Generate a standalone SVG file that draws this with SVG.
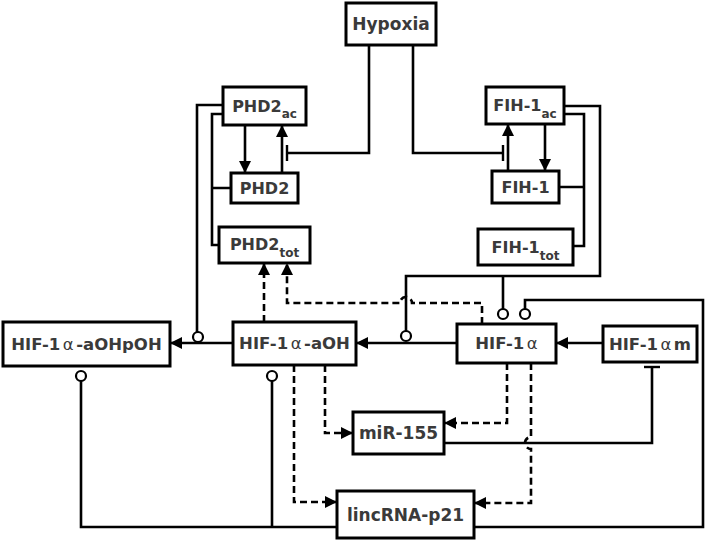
<svg xmlns="http://www.w3.org/2000/svg" width="708" height="543" viewBox="0 0 708 543">
<defs>
<style>
.box{fill:#fff;stroke:#000;stroke-width:3}
.t{font-family:"DejaVu Sans","Verdana",sans-serif;font-weight:bold;font-size:16px;fill:#3a3a3a;text-anchor:middle}
.h{font-size:16.5px}
.sub{font-size:12px}
.al{font-weight:normal}
.c{fill:none;stroke:#000;stroke-width:2.6}
.d{fill:none;stroke:#000;stroke-width:2.6;stroke-dasharray:7,4}
.o{fill:#fff;stroke:#000;stroke-width:2.2}
</style>
<marker id="ar" viewBox="0 0 12 12" refX="12" refY="6" markerWidth="12" markerHeight="12" markerUnits="userSpaceOnUse" orient="auto">
<path d="M0,0 L12,6 L0,12 z" fill="#000"/>
</marker>
<marker id="tb" viewBox="0 0 4 16" refX="2" refY="8" markerWidth="4" markerHeight="16" markerUnits="userSpaceOnUse" orient="auto">
<rect x="0.8" y="0" width="2.4" height="16" fill="#000"/>
</marker>
</defs>

<g id="connectors">
<path class="c" d="M369,45 V153 H287" marker-end="url(#tb)"/>
<path class="c" d="M413,45 V153 H503" marker-end="url(#tb)"/>
<path class="c" d="M245,125 V173" marker-end="url(#ar)"/>
<path class="c" d="M282,173 V125" marker-end="url(#ar)"/>
<path class="c" d="M508,171 V124" marker-end="url(#ar)"/>
<path class="c" d="M545,124 V171" marker-end="url(#ar)"/>
<path class="c" d="M223,114 H212 V245 H219 M231,188 H212"/>
<path class="c" d="M564,114 H584 V246 H573 M559,187 H584"/>
<path class="c" d="M223,105 H197 V332"/>
<path class="c" d="M564,106 H600 V276 H406 V331 M503,276 V309"/>
<path class="c" d="M474,527 H703 V300 H525 V309"/>
<path class="c" d="M337,527 H81 V381 M272,527 V381"/>
<path class="c" d="M603,343 H556" marker-end="url(#ar)"/>
<path class="c" d="M457,343 H356" marker-end="url(#ar)"/>
<path class="c" d="M233,343 H170" marker-end="url(#ar)"/>
<path class="c" d="M444,443 H652 V367" marker-end="url(#tb)"/>
<path class="d" d="M507,363 V423 H444" marker-end="url(#ar)"/>
<path class="d" d="M531,363 V437 A6,6 0 0 0 531,449 V503 H474" marker-end="url(#ar)"/>
<path class="d" d="M325,365 V433 H353" marker-end="url(#ar)"/>
<path class="d" d="M294,365 V502 H337" marker-end="url(#ar)"/>
<path class="d" d="M264,322 V263" marker-end="url(#ar)"/>
<path class="d" d="M482,324 V303 H412 A6,6 0 0 0 400,303 H287 V263" marker-end="url(#ar)"/>
<circle class="o" cx="198" cy="337" r="5"/>
<circle class="o" cx="406" cy="336" r="5"/>
<circle class="o" cx="503" cy="314" r="5"/>
<circle class="o" cx="525" cy="314" r="5"/>
<circle class="o" cx="81" cy="376" r="5"/>
<circle class="o" cx="272" cy="376" r="5"/>
</g>

<g id="hypoxia"><rect class="box" x="346" y="3" width="90" height="42"/><text class="t" x="391" y="30" style="font-size:17px">Hypoxia</text></g>
<g id="phd2ac"><rect class="box" x="223" y="87" width="83" height="38"/><text class="t" x="264.5" y="112">PHD2<tspan class="sub" dy="6">ac</tspan></text></g>
<g id="fih1ac"><rect class="box" x="486" y="87" width="78" height="37"/><text class="t" x="525" y="111">FIH-1<tspan class="sub" dy="7">ac</tspan></text></g>
<g id="phd2"><rect class="box" x="231" y="173" width="67" height="30"/><text class="t" x="264.5" y="194">PHD2</text></g>
<g id="fih1"><rect class="box" x="492" y="171" width="67" height="32"/><text class="t" x="525.5" y="193">FIH-1</text></g>
<g id="phd2tot"><rect class="box" x="219" y="227" width="91" height="36"/><text class="t" x="264.5" y="250">PHD2<tspan class="sub" dy="7">tot</tspan></text></g>
<g id="fih1tot"><rect class="box" x="478" y="229" width="95" height="36"/><text class="t" x="525.5" y="253">FIH-1<tspan class="sub" dy="7">tot</tspan></text></g>
<g id="hif1a-aohpoh"><rect class="box" x="3" y="322" width="167" height="44"/><text class="t h" x="86.5" y="350">HIF-1<tspan class="al" dx="2.5">α</tspan><tspan dx="2.5">-aOHpOH</tspan></text></g>
<g id="hif1a-aoh"><rect class="box" x="233" y="322" width="123" height="43"/><text class="t h" x="294.5" y="349">HIF-1<tspan class="al" dx="2.5">α</tspan><tspan dx="2.5">-aOH</tspan></text></g>
<g id="hif1a"><rect class="box" x="457" y="324" width="99" height="39"/><text class="t h" x="506.5" y="349">HIF-1<tspan class="al" dx="2.5">α</tspan></text></g>
<g id="hif1am"><rect class="box" x="603" y="326" width="94" height="36"/><text class="t h" x="650" y="350">HIF-1<tspan class="al" dx="2.5">α</tspan><tspan dx="2.5">m</tspan></text></g>
<g id="mir155"><rect class="box" x="353" y="412" width="91" height="42"/><text class="t" x="398.5" y="439" style="font-size:17px">miR-155</text></g>
<g id="lincrna"><rect class="box" x="337" y="491" width="137" height="47"/><text class="t" x="405.5" y="521" style="font-size:17px">lincRNA-p21</text></g>
</svg>
